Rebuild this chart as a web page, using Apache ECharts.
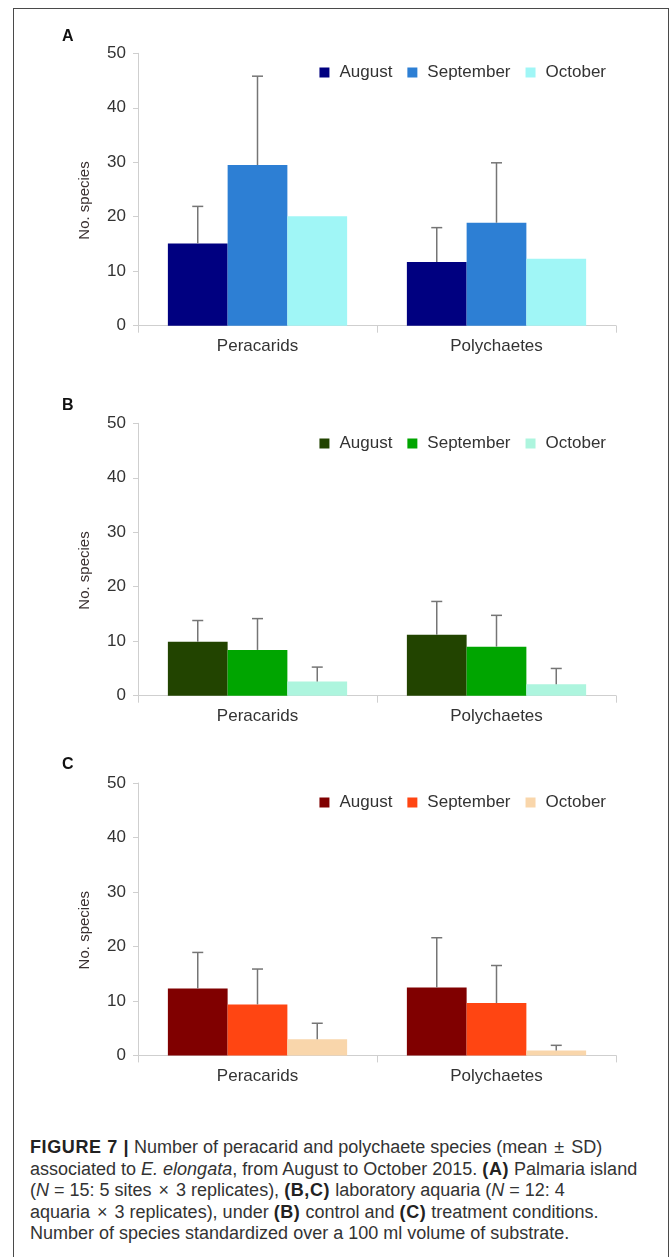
<!DOCTYPE html>
<html>
<head>
<meta charset="utf-8">
<script src="https://cdn.jsdelivr.net/npm/echarts@6/dist/echarts.min.js"></script>
<style>
html,body{margin:0;padding:0;background:#fff;width:672px;height:1257px;overflow:hidden;}
#frame{position:absolute;left:13px;top:8px;width:656px;height:1300px;border:1.5px solid #4a4a4a;box-sizing:border-box;}
.panel{position:absolute;left:0;width:672px;height:370px;}
#caption{position:absolute;left:30px;top:1137px;font-family:"Liberation Sans",Arial,sans-serif;font-size:18px;line-height:21.6px;color:#333;white-space:nowrap;}
#caption b{color:#222;letter-spacing:0.6px;}
#caption .op{padding:0 2px;}
</style>
</head>
<body>
<div id="frame"></div>
<div id="pA" class="panel" style="top:0px"></div>
<div id="pB" class="panel" style="top:370px"></div>
<div id="pC" class="panel" style="top:740px"></div>
<div id="caption"><b>FIGURE 7 |</b> Number of peracarid and polychaete species (mean <span class="op">±</span> SD)<br>associated to <i>E. elongata</i>, from August to October 2015. <b>(A)</b> Palmaria island<br>(<i>N</i> = 15: 5 sites <span class="op">×</span> 3 replicates), <b>(B,C)</b> laboratory aquaria (<i>N</i> = 12: 4<br>aquaria <span class="op">×</span> 3 replicates), under <b>(B)</b> control and <b>(C)</b> treatment conditions.<br>Number of species standardized over a 100 ml volume of substrate.</div>
<script>
const categories = ['Peracarids', 'Polychaetes'];
const months = ['August', 'September', 'October'];
const yTicks = [0, 10, 20, 30, 40, 50];

// Panel A: Palmaria island
const aAugust = [15.1, 11.7];
const aSeptember = [29.5, 18.9];
const aOctober = [20.1, 12.3];
const aAugustSD = [6.8, 6.3];
const aSeptemberSD = [16.3, 11.0];
const aOctoberSD = [null, null];

// Panel B: control aquaria
const bAugust = [9.9, 11.2];
const bSeptember = [8.4, 9.0];
const bOctober = [2.6, 2.1];
const bAugustSD = [3.9, 6.1];
const bSeptemberSD = [5.75, 5.75];
const bOctoberSD = [2.65, 2.9];

// Panel C: treatment aquaria
const cAugust = [12.3, 12.45];
const cSeptember = [9.35, 9.6];
const cOctober = [2.95, 0.9];
const cAugustSD = [6.6, 9.15];
const cSeptemberSD = [6.5, 6.9];
const cOctoberSD = [2.95, 0.95];

const colorsA = ['#000080', '#2d7fd4', '#a0f6f6'];
const colorsB = ['#224400', '#00a500', '#adf5de'];
const colorsC = ['#800000', '#ff4512', '#f9d6ab'];

const font = '"Liberation Sans", Arial, sans-serif';
const catGap = 0.25;

function errSeries(k, means, sds) {
  const data = [];
  means.forEach((m, i) => { if (sds[i] != null) data.push([i, m, sds[i]]); });
  return {
    type: 'custom',
    z: 5,
    silent: true,
    data: data,
    encode: { x: 0, y: 1 },
    renderItem: function (params, api) {
      const xi = api.value(0), m = api.value(1), s = api.value(2);
      const band = api.size([1, 0])[0];
      const bw = band * (1 - catGap) / 3;
      const off = (k - 1) * bw;
      const p0 = api.coord([xi, m]);
      const p1 = api.coord([xi, m + s]);
      const x = p0[0] + off;
      const st = { stroke: '#757575', lineWidth: 1.5 };
      return {
        type: 'group',
        children: [
          { type: 'line', shape: { x1: x, y1: p0[1], x2: x, y2: p1[1] }, style: st },
          { type: 'line', shape: { x1: x - 5.5, y1: p1[1], x2: x + 5.5, y2: p1[1] }, style: st }
        ]
      };
    }
  };
}

function makePanel(id, letter, letterTop, gridTop, legendTop, colors, means, sds) {
  const chart = echarts.init(document.getElementById(id), null, { renderer: 'canvas' });
  const series = [];
  means.forEach((m, k) => {
    series.push({
      name: months[k], type: 'bar', data: m,
      barGap: '0%', barCategoryGap: (catGap * 100) + '%',
      itemStyle: { color: colors[k] }
    });
  });
  means.forEach((m, k) => series.push(errSeries(k, m, sds[k])));
  chart.setOption({
    animation: false,
    color: colors,
    title: {
      text: letter, left: 57, top: letterTop,
      textStyle: { fontFamily: font, fontSize: 16, fontWeight: 'bold', color: '#111' }
    },
    legend: {
      data: months.map((n, k) => ({ name: n, itemStyle: { color: colors[k] } })),
      right: 61, top: legendTop,
      icon: 'rect', itemWidth: 10, itemHeight: 10, itemGap: 15,
      selectedMode: false,
      textStyle: { fontFamily: font, fontSize: 17, color: '#333', padding: [0, 0, 0, 5] }
    },
    grid: { left: 138, width: 478, top: gridTop, height: 272.4, containLabel: false },
    xAxis: {
      type: 'category', data: categories,
      axisLine: { lineStyle: { color: '#cfcfcf', width: 1 } },
      axisTick: { show: true, length: 7, lineStyle: { color: '#cfcfcf' } },
      axisLabel: { fontFamily: font, fontSize: 17, color: '#333', margin: 12 }
    },
    yAxis: {
      type: 'value', min: yTicks[0], max: yTicks[yTicks.length - 1], interval: 10,
      name: 'No. species', nameLocation: 'middle', nameRotate: 90, nameGap: 46,
      nameTextStyle: { fontFamily: font, fontSize: 15, color: '#3a3030', padding: [0, 22, 0, 0] },
      axisLine: { show: true, lineStyle: { color: '#cfcfcf', width: 1 } },
      axisTick: { show: true, length: 5, lineStyle: { color: '#cfcfcf' } },
      axisLabel: { fontFamily: font, fontSize: 17, color: '#333', margin: 12 },
      splitLine: { show: false }
    },
    series: series
  });
}

makePanel('pA', 'A', 24, 53.3, 59, colorsA,
  [aAugust, aSeptember, aOctober], [aAugustSD, aSeptemberSD, aOctoberSD]);
makePanel('pB', 'B', 23, 53.3, 60, colorsB,
  [bAugust, bSeptember, bOctober], [bAugustSD, bSeptemberSD, bOctoberSD]);
makePanel('pC', 'C', 12, 43, 49, colorsC,
  [cAugust, cSeptember, cOctober], [cAugustSD, cSeptemberSD, cOctoberSD]);
</script>
</body>
</html>
